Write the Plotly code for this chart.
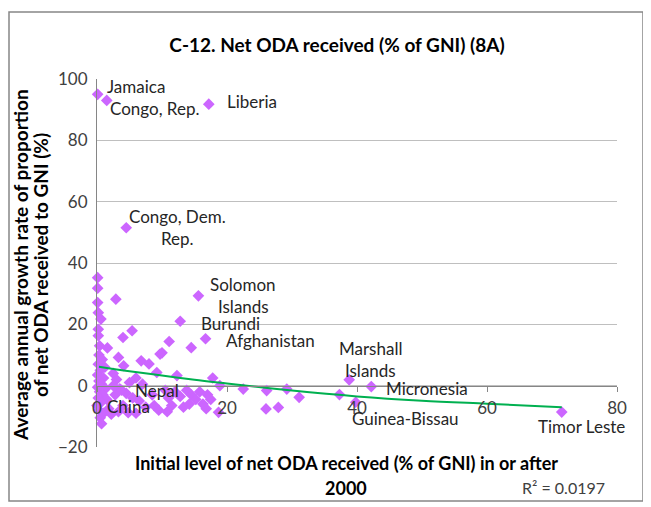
import plotly.graph_objects as go

# labelled countries
country_names = ["Jamaica", "Congo, Rep.", "Liberia", "Congo, Dem.<br>Rep.", "Solomon<br>Islands",
                 "Burundi", "Afghanistan", "Marshall<br>Islands", "Micronesia", "Guinea-Bissau",
                 "Timor Leste", "Nepal", "China"]
country_x = [0.1, 1.5, 17.2, 4.5, 15.6, 12.8, 16.7, 38.8, 42.2, 39.8, 71.5, 3.8, 0.0]
country_y = [95.0, 93.0, 91.8, 51.5, 29.3, 21.0, 15.3, 1.9, -0.3, -5.4, -8.6, -1.5, -6.5]

# other (unlabelled) countries
other_x = [0.1, 0.1, 0.1, 0.2, 0.6, 0.2, 0.2, 0.4, 1.6, 0.3, 0.8, 0.2, 1.2, 0.5, 0.1, 1.0,
           0.3, 0.7, 0.1, 1.3, 0.4, 0.9, 0.2, 1.5, 0.6, 0.3, 1.0, 0.5, 0.7, 1.8, 2.2,
           2.9, 5.4, 4.0, 3.3, 4.1, 6.8, 8.0, 9.7, 11.1, 10.0, 14.5, 9.2, 12.3, 2.5, 3.0,
           2.5, 3.5, 2.8, 4.5, 5.0, 6.0, 7.0, 5.5, 6.5, 4.0, 3.3, 4.8, 7.5, 8.5, 8.8,
           10.5, 11.0, 11.5, 12.0, 12.8, 13.3, 13.8, 14.5, 15.2, 15.8, 16.3, 17.0, 17.5,
           17.8, 18.9, 18.7, 16.8, 14.2, 9.5, 10.8, 6.0,
           22.5, 26.1, 29.2, 31.1, 26.0, 27.9, 37.3]
other_y = [35.2, 31.8, 27.1, 23.8, 21.7, 18.4, 16.3, 13.0, 12.3, 10.0, 8.5, 7.0, 6.0, 5.0, 3.5, 2.5,
           1.5, 0.5, -0.5, -1.0, -2.0, -3.0, -4.0, -4.5, -5.5, -8.0, -9.0, -10.5, -12.4, -7.5, -9.3,
           28.2, 17.9, 15.7, 9.2, 6.5, 8.1, 7.1, 10.3, 14.4, 10.7, 12.4, 4.3, 3.3, 4.0, 2.0,
           0.0, -1.0, -3.0, -2.5, 1.0, 2.5, 0.5, -4.0, -5.0, -6.5, -8.5, -8.8, -7.0, -3.0, -6.5,
           -1.5, -4.0, -6.5, -2.0, -3.5, -7.0, -1.5, -3.0, -4.5, -2.0, -6.0, -3.0, -4.5,
           2.5, 0.0, -8.7, -7.5, -6.0, -8.0, -8.5, -9.0,
           -1.1, -1.6, -1.1, -3.8, -7.6, -7.1, -2.9]

# trend line
trend_x = [0.3, 5, 10, 15, 20, 30, 40, 50, 60, 71.5]
trend_y = [6.2, 4.7, 3.3, 1.9, 0.7, -1.6, -3.5, -4.9, -5.9, -7.0]

x_ticks = [0, 20, 40, 60, 80]
y_ticks = [-20, 0, 20, 40, 60, 80, 100]

# label offsets in pixels (xshift, yshift, anchor)
label_offsets = {
    "Jamaica": (7, 8, "left"),
    "Congo, Rep.": (1, -8, "left"),
    "Liberia": (16, 3, "left"),
    "Congo, Dem.<br>Rep.": (51, 0, "center"),
    "Solomon<br>Islands": (45, 0, "center"),
    "Burundi": (19, -2, "left"),
    "Afghanistan": (18, -2, "left"),
    "Marshall<br>Islands": (21, 20, "center"),
    "Micronesia": (13, -2, "left"),
    "Guinea-Bissau": (-6, -16, "left"),
    "Timor Leste": (-26, -14, "left"),
    "Nepal": (11, 0, "left"),
    "China": (8, -1, "left"),
}

FONT = "Lato, 'Open Sans', sans-serif"
PURPLE = "#CC66FF"
GRID = "#BFBFBF"
AXIS = "#868686"
TXT = "#404040"

# the page has an 8px body margin, so the figure is 643x499 and sits at (8, 8)
W, H = 643, 499
L, R, T, B = 89, 34, 71, 60
PW, PH = W - L - R, H - T - B


def px(xp):
    return (xp - L) / PW


def py(yp):
    return (H - B - yp) / PH


fig = go.Figure()
fig.add_trace(go.Scatter(x=other_x + country_x, y=other_y + country_y, mode="markers",
                         marker=dict(symbol="diamond", size=9, color=PURPLE),
                         cliponaxis=False, showlegend=False))
fig.add_trace(go.Scatter(x=trend_x, y=trend_y, mode="lines", line=dict(color="#00B050", width=2),
                         line_shape="spline", cliponaxis=False, showlegend=False))

annotations = []
for name, cx, cy in zip(country_names, country_x, country_y):
    dx, dy, anchor = label_offsets[name]
    lines = name.split("<br>")
    n = len(lines)
    for i, ln in enumerate(lines):
        annotations.append(dict(x=cx, y=cy, xref="x", yref="y", text=ln, showarrow=False,
                                xanchor=anchor, yanchor="middle", xshift=dx,
                                yshift=dy + (n - 1) * 11 - i * 22,
                                font=dict(family=FONT, size=17, color="#262626")))

# y axis title (two rotated lines)
annotations.append(dict(x=px(12), y=py(257), xref="paper", yref="paper", textangle=-90,
                        xanchor="center", yanchor="middle",
                        text="<b>Average annual growth rate of proportion</b>", showarrow=False,
                        font=dict(family=FONT, size=19, color="#000000")))
annotations.append(dict(x=px(32), y=py(257), xref="paper", yref="paper", textangle=-90,
                        xanchor="center", yanchor="middle",
                        text="<b>of net ODA received to GNI (%)</b>", showarrow=False,
                        font=dict(family=FONT, size=19, color="#000000")))
# x axis title
annotations.append(dict(x=px(338), y=py(455), xref="paper", yref="paper",
                        xanchor="center", yanchor="middle",
                        text="<b>Initial level of net ODA received (% of GNI) in or after</b>",
                        showarrow=False, font=dict(family=FONT, size=18, color="#000000")))
annotations.append(dict(x=px(338), y=py(480), xref="paper", yref="paper",
                        xanchor="center", yanchor="middle",
                        text="<b>2000</b>", showarrow=False,
                        font=dict(family=FONT, size=18, color="#000000")))
annotations.append(dict(x=px(599), y=py(480), xref="paper", yref="paper",
                        xanchor="right", yanchor="middle", text="R² = 0.0197", showarrow=False,
                        font=dict(family=FONT, size=16, color=TXT)))

fig.update_layout(
    width=W, height=H,
    margin=dict(l=L, r=R, t=T, b=B),
    paper_bgcolor="white", plot_bgcolor="white",
    title=dict(text="<b>C-12. Net ODA received (% of GNI) (8A)</b>", x=329 / W, xanchor="center",
               y=1 - 37 / H, yanchor="middle", font=dict(family=FONT, size=19, color="#000000")),
    xaxis=dict(range=[0, 80], tickvals=x_ticks, showgrid=False, zeroline=False,
               anchor="free", position=20 / 120, showline=True, linecolor=AXIS, linewidth=1,
               ticks="outside", ticklen=5, tickcolor=AXIS, ticklabelstandoff=2,
               tickfont=dict(family=FONT, size=17, color=TXT)),
    yaxis=dict(range=[-20, 100], tickvals=y_ticks, showgrid=True, gridcolor=GRID, gridwidth=1,
               zeroline=False, showline=True, linecolor=AXIS, linewidth=1, ticks="",
               ticklabelstandoff=5, tickfont=dict(family=FONT, size=17, color=TXT)),
    annotations=annotations,
    shapes=[dict(type="rect", xref="paper", yref="paper",
                 x0=px(1), x1=px(635), y0=py(493), y1=py(4),
                 line=dict(color=AXIS, width=1.5), layer="below")],
)

fig.write_html("out.html")
